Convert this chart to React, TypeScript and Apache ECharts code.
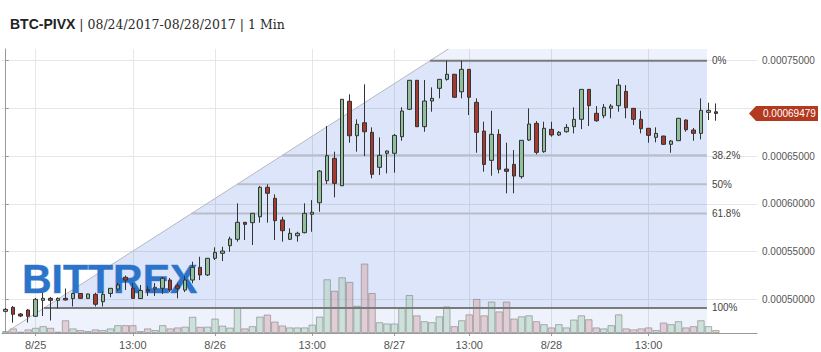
import React, { useEffect, useRef } from 'react';
import * as echarts from 'echarts';

// Hourly candles, prices in satoshi (1e-8 BTC)
const opens = [
  48740, 49160, 48460, 48880, 48220, 49890, 50100, 49890, 50100, 50080,
  50610, 50100, 50520, 49750, 50610, 51080, 52310, 51180, 50080, 51030,
  51100, 51150, 52020, 51420, 50970, 52020, 53350, 52550, 54300, 54820,
  55620, 56290, 58070, 58030, 58650, 61740, 60580, 58310, 56290, 56660,
  56980, 58910, 60120, 62430, 64770, 61900, 70750, 67140, 68500, 67500,
  63830, 65300, 65300, 67040, 69910, 72950, 68090, 70780, 72110, 73050,
  73580, 71750, 74100, 70640, 67630, 64560, 67290, 63650, 64140, 62850,
  66690, 68440, 65470, 67810, 67220, 67560, 68090, 68860, 72000, 69490,
  69240, 70010, 70290, 71790, 70010, 68860, 67920, 66970, 67110, 66240,
  66620, 68790, 67740, 67390, 69590, 69650,
];
const closes = [
  48950, 48430, 48250, 48220, 50000, 50100, 49890, 50100, 49930, 50610,
  50100, 50560, 49480, 50520, 51150, 51500, 52020, 50100, 50920, 50870,
  51260, 52200, 50970, 51150, 52020, 53350, 52550, 54300, 54920, 55060,
  56320, 58070, 57860, 59010, 61740, 61110, 58240, 57190, 56920, 56920,
  59010, 59120, 63440, 65050, 62150, 70960, 67140, 68340, 67560, 63100,
  65090, 65540, 67180, 69730, 72950, 68090, 70780, 71060, 73050, 73580,
  71170, 74100, 71170, 67500, 64140, 67290, 63620, 63410, 62920, 66660,
  68370, 65400, 67920, 67220, 67500, 68020, 68860, 72000, 70290, 68710,
  70120, 70250, 72450, 70080, 68860, 67880, 67180, 67390, 66240, 66590,
  68970, 67770, 67390, 69800, 69800, 69479,
];
const lows = [
  48620, 47550, 48140, 47570, 48200, 48250, 47780, 49040, 49870, 49250,
  50030, 50050, 49250, 49250, 50210, 50870, 50970, 50030, 50030, 50350,
  50350, 50560, 50760, 50100, 50760, 51680, 52020, 52440, 54120, 54010,
  54990, 56040, 56210, 55690, 58030, 58030, 56210, 56040, 56210, 56040,
  56920, 57080, 59180, 62080, 60690, 61870, 66410, 65470, 65010, 62680,
  63020, 63200, 63270, 66620, 69830, 68050, 67560, 69660, 71060, 72910,
  71090, 71060, 69310, 65360, 63370, 62950, 63200, 61110, 61110, 62640,
  66590, 65190, 65360, 67040, 67110, 67460, 67390, 67840, 68160, 68610,
  68970, 68970, 69660, 68970, 68260, 67390, 66410, 66450, 66170, 65360,
  66590, 67560, 66620, 66760, 68790, 68710,
];
const highs = [
  49090, 49300, 48560, 48980, 50140, 50690, 50240, 50190, 51130, 50660,
  50660, 50610, 50690, 50820, 51180, 51710, 52490, 51710, 51500, 51390,
  51710, 52340, 52230, 51710, 52440, 53940, 54460, 54330, 55450, 55510,
  56560, 60060, 58100, 59040, 61870, 62050, 61000, 58650, 57440, 57080,
  60060, 60400, 63550, 68160, 65470, 70990, 71480, 68860, 72530, 68020,
  66970, 65590, 67320, 70120, 72980, 72980, 72980, 72210, 73080, 75000,
  73610, 75000, 74130, 71060, 68610, 69760, 67810, 66410, 65640, 66690,
  70010, 68680, 68610, 68610, 67630, 68370, 70120, 72030, 72030, 70250,
  70460, 70460, 73080, 72450, 70040, 69760, 67950, 68020, 67140, 66690,
  69000, 68840, 67950, 71060, 70600, 70530,
];
const volumes = [
  0.2, 0.47, 0.13, 0.37, 0.53, 0.7, 0.53, 0.13, 1.3, 0.47,
  0.3, 0.2, 0.37, 0.3, 0.47, 0.8, 0.8, 0.8, 0.2, 0.47,
  0.3, 0.8, 0.47, 0.57, 0.65, 1.65, 0.63, 0.65, 1.47, 0.75,
  0.55, 2.57, 0.47, 0.7, 1.67, 1.88, 1.17, 0.77, 0.57, 0.57,
  0.57, 0.85, 1.67, 5.47, 4.3, 5.67, 5.2, 2.77, 7.07, 4.07,
  1.1, 0.97, 0.97, 2.57, 3.87, 1.8, 1.2, 1.1, 1.7, 2.7,
  0.7, 1.3, 1.9, 3.47, 1.8, 3.2, 2.2, 3.2, 1.47, 1.7,
  1.8, 1.2, 0.9, 0.57, 0.9, 0.57, 1.37, 1.8, 1.4, 0.57,
  0.47, 0.8, 1.9, 0.47, 0.37, 0.47, 0.57, 0.3, 1.07, 0.9,
  1.2, 0.57, 0.7, 1.3, 0.7, 0.3,
];

const xTickIndex = [4, 17, 28, 41, 52, 62, 73, 86];
const xTickLabels = ['8/25', '13:00', '8/26', '13:00', '8/27', '13:00', '8/28', '13:00'];
const yTickValues = [50000, 55000, 60000, 65000, 70000, 75000];
const yLabelValues = [50000, 55000, 60000, 65000, 75000];

const fibHigh = 75000;
const fibLow = 49090;
const fibHighIdx = 56.76;
const fibLowIdx = 5.12;
const fibEndIdx = 93.8;
const fibLevels = [0, 0.382, 0.5, 0.618, 1];
const fibLabels = ['0%', '38.2%', '50%', '61.8%', '100%'];

const lastPrice = 69479;

const X_MIN = -0.5;
const X_MAX = 100.5;
const Y_MIN = 46470;
const Y_MAX = 76230;
const VOL_MAX = 28.9;

const FONT = '"Liberation Sans", Arial, sans-serif';

function fibGeom(params: any, api: any) {
  const cs = params.coordSys;
  const top = cs.y;
  const bottom = cs.y + cs.height;
  const a = api.coord([fibLowIdx, fibLow]);
  const b = api.coord([fibHighIdx, fibHigh]);
  const xr = api.coord([fibEndIdx, fibLow])[0];
  const k = (b[0] - a[0]) / (b[1] - a[1]);
  const xAt = (y: number) => a[0] + (y - a[1]) * k;
  return { top, bottom, a, b, xr, xAt };
}

export default function App() {
  const ref = useRef<HTMLDivElement>(null);

  useEffect(() => {
    const chart = echarts.init(ref.current!, undefined, { renderer: 'svg' });

    const candleData = opens.map((o, i) => [i, o, closes[i], lows[i], highs[i]]);
    const volData = volumes.map((v, i) => ({
      value: [i, v],
      itemStyle: {
        color: closes[i] >= opens[i] ? 'rgba(165,205,175,0.45)' : 'rgba(215,155,160,0.42)',
      },
    }));

    const option: any = {
      animation: false,
      textStyle: { fontFamily: FONT },
      grid: { left: 2, right: 64, top: 49, bottom: 19 },
      xAxis: {
        type: 'value',
        min: X_MIN,
        max: X_MAX,
        axisLine: { show: true, onZero: false, lineStyle: { color: '#9a9a9a' } },
        axisTick: { show: true, length: 3, customValues: xTickIndex, lineStyle: { color: '#9a9a9a' } },
        axisLabel: {
          customValues: xTickIndex,
          formatter: (v: number) => {
            const k = xTickIndex.indexOf(Math.round(v));
            return k >= 0 ? xTickLabels[k] : '';
          },
          color: '#555',
          fontSize: 11,
          margin: 6,
          fontFamily: FONT,
        },
        splitLine: { show: true, lineStyle: { color: '#e6e6e6', width: 1 } },
      },
      yAxis: [
        {
          type: 'value',
          position: 'right',
          min: Y_MIN,
          max: Y_MAX,
          axisLine: { show: true, lineStyle: { color: '#9a9a9a' } },
          axisTick: { show: true, length: 3, customValues: yTickValues, lineStyle: { color: '#9a9a9a' } },
          axisLabel: {
            customValues: yLabelValues,
            formatter: (v: number) => (v / 1e8).toFixed(8),
            color: '#555',
            fontSize: 10,
            margin: 5,
            fontFamily: FONT,
          },
          splitLine: { show: true, lineStyle: { color: '#e6e6e6', width: 1 } },
        },
        { type: 'value', min: 0, max: VOL_MAX, show: false },
      ],
      graphic: [
        {
          type: 'text',
          x: 10,
          y: 24,
          z: 10,
          style: {
            text: '{a|BTC-PIVX}{b| | 08/24/2017-08/28/2017 | 1 Min}',
            rich: {
              a: { fontFamily: FONT, fontSize: 14, fontWeight: 'bold', fill: '#222' },
              b: { fontFamily: '"DejaVu Serif", serif', fontSize: 12.5, fill: '#2a2a2a' },
            },
            verticalAlign: 'middle',
            textVerticalAlign: 'middle',
          },
        },
        {
          type: 'text',
          x: 22,
          y: 279,
          z: 4,
          silent: true,
          style: {
            text: 'BITTREX',
            fontFamily: FONT,
            fontSize: 41,
            fontWeight: 'bold',
            fill: '#2a74cb',
            stroke: 'rgba(40,80,160,0.35)',
            lineWidth: 1,
            verticalAlign: 'middle',
            textVerticalAlign: 'middle',
          },
        },
      ],
      series: [
        {
          type: 'custom',
          z: 1,
          silent: true,
          data: [[0, 50000]],
          renderItem: (params: any, api: any) => {
            const g = fibGeom(params, api);
            return {
              type: 'group',
              children: [
                {
                  type: 'polygon',
                  shape: {
                    points: [
                      [g.xAt(g.top), g.top],
                      [g.xr, g.top],
                      [g.xr, g.bottom],
                      [g.xAt(g.bottom), g.bottom],
                    ],
                  },
                  style: { fill: 'rgba(80,130,230,0.1)' },
                },
                {
                  type: 'polygon',
                  shape: {
                    points: [
                      [g.b[0], g.b[1]],
                      [g.xr, g.b[1]],
                      [g.xr, g.a[1]],
                      [g.a[0], g.a[1]],
                    ],
                  },
                  style: { fill: 'rgba(80,130,230,0.11)' },
                },
              ],
            };
          },
        },
        {
          type: 'bar',
          yAxisIndex: 1,
          z: 2,
          silent: true,
          barWidth: '100%',
          data: volData,
          itemStyle: { borderColor: 'rgba(120,120,120,0.55)', borderWidth: 1 },
        },
        {
          type: 'custom',
          z: 3,
          silent: true,
          data: [[0, 50000]],
          renderItem: (params: any, api: any) => {
            const g = fibGeom(params, api);
            const children: any[] = [
              {
                type: 'line',
                shape: { x1: g.xAt(g.bottom), y1: g.bottom, x2: g.xAt(g.top), y2: g.top },
                style: { stroke: '#b6b8c0', lineWidth: 1 },
              },
            ];
            fibLevels.forEach((lv, k) => {
              const price = fibHigh - lv * (fibHigh - fibLow);
              const y = api.coord([0, price])[1];
              const strong = lv === 0 || lv === 1;
              children.push({
                type: 'line',
                shape: { x1: g.xAt(y), y1: y, x2: g.xr, y2: y },
                style: { stroke: strong ? '#7a7a7a' : '#b9becb', lineWidth: 2 },
              });
              children.push({
                type: 'text',
                x: g.xr + 5,
                y,
                style: {
                  text: fibLabels[k],
                  fill: '#444',
                  font: '10px "Liberation Sans", Arial, sans-serif',
                  align: 'left',
                  verticalAlign: 'middle',
                  textAlign: 'left',
                  textVerticalAlign: 'middle',
                },
              });
            });
            return { type: 'group', children };
          },
        },
        {
          type: 'candlestick',
          z: 5,
          silent: true,
          barWidth: 4,
          data: candleData,
          itemStyle: {
            color: '#8fbf9b',
            color0: '#a63a2f',
            borderColor: '#333',
            borderColor0: '#333',
            borderWidth: 1,
          },
        },
        {
          type: 'custom',
          z: 6,
          silent: true,
          data: [[opens.length - 1, lastPrice]],
          renderItem: (params: any, api: any) => {
            const cs = params.coordSys;
            const xr = cs.x + cs.width;
            const y = api.coord([opens.length - 1, lastPrice])[1];
            return {
              type: 'group',
              children: [
                {
                  type: 'polygon',
                  shape: {
                    points: [
                      [xr - 8, y],
                      [xr - 1, y - 7.5],
                      [xr + 61, y - 7.5],
                      [xr + 61, y + 7.5],
                      [xr - 1, y + 7.5],
                    ],
                  },
                  style: { fill: '#b3391f' },
                },
                {
                  type: 'text',
                  x: xr + 6,
                  y,
                  style: {
                    text: (lastPrice / 1e8).toFixed(8),
                    fill: '#fff',
                    font: '10px "Liberation Sans", Arial, sans-serif',
                    align: 'left',
                    verticalAlign: 'middle',
                    textAlign: 'left',
                    textVerticalAlign: 'middle',
                  },
                },
              ],
            };
          },
        },
      ],
    };

    chart.setOption(option);
    return () => chart.dispose();
  }, []);

  return (
    <div
      ref={ref}
      style={{ position: 'absolute', left: 0, top: 0, width: 821, height: 352, background: '#fff' }}
    />
  );
}
